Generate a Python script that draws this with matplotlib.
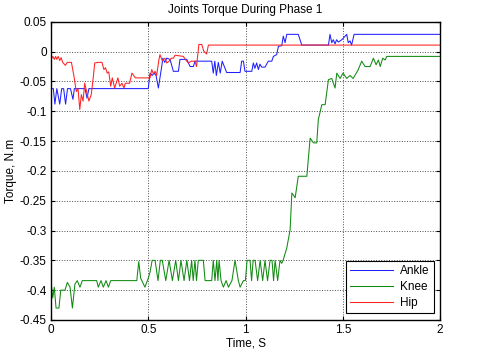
import matplotlib
matplotlib.use('Agg')
import matplotlib.pyplot as plt
from matplotlib.ticker import FuncFormatter

plt.rcParams['font.family'] = ['Liberation Sans', 'DejaVu Sans']

# Ankle torque (time, value)
ankle_t = [0, 0.012, 0.02, 0.03, 0.045, 0.055, 0.065, 0.075, 0.085, 0.1, 0.113, 0.12,
           0.175, 0.185, 0.195, 0.5, 0.509, 0.52, 0.53, 0.54, 0.552, 0.569, 0.575,
           0.585, 0.595, 0.612, 0.629, 0.655, 0.663, 0.698, 0.715, 0.732, 0.74, 0.826,
           0.834, 0.842, 0.85, 0.86, 0.87, 0.88, 0.903, 0.972, 0.98, 0.989, 0.997,
           1.032, 1.04, 1.048, 1.057, 1.066, 1.074, 1.083, 1.1, 1.117, 1.135, 1.143,
           1.16, 1.169, 1.186, 1.194, 1.203, 1.212, 1.271, 1.289, 1.426, 1.434, 1.443,
           1.451, 1.46, 1.468, 1.477, 1.495, 1.52, 1.528, 1.537, 1.545, 1.558, 2.0]
ankle_v = [-0.062, -0.062, -0.088, -0.062, -0.088, -0.062, -0.062, -0.088, -0.062, -0.062,
           -0.08, -0.062, -0.062, -0.078, -0.062, -0.062, -0.036, -0.04, -0.036, -0.04,
           -0.061, -0.025, -0.011, -0.018, -0.011, -0.013, -0.033, -0.033, -0.013, -0.013,
           -0.025, -0.025, -0.016, -0.016, -0.036, -0.016, -0.04, -0.018, -0.036, -0.016,
           -0.035, -0.035, -0.016, -0.016, -0.033, -0.033, -0.019, -0.028, -0.019, -0.03,
           -0.021, -0.026, -0.026, -0.016, -0.016, -0.008, -0.005, 0.009, 0.01, 0.026,
           0.015, 0.029, 0.029, 0.011, 0.011, 0.029, 0.015, 0.02, 0.013, 0.02, 0.016,
           0.02, 0.029, 0.015, 0.018, 0.011, 0.029, 0.029]

# Knee torque
knee_t = [0, 0.009, 0.017, 0.026, 0.041, 0.05, 0.072, 0.084, 0.098, 0.11, 0.123, 0.135,
          0.149, 0.161, 0.235, 0.243, 0.257, 0.269, 0.283, 0.295, 0.307, 0.441, 0.451,
          0.461, 0.483, 0.5, 0.509, 0.52, 0.535, 0.55, 0.562, 0.572, 0.59, 0.607, 0.624,
          0.641, 0.655, 0.668, 0.684, 0.698, 0.712, 0.723, 0.731, 0.74, 0.748, 0.757,
          0.783, 0.792, 0.826, 0.834, 0.843, 0.852, 0.858, 0.864, 0.874, 0.886, 0.9,
          0.912, 0.93, 0.946, 0.963, 0.972, 0.989, 0.999, 1.008, 1.023, 1.031, 1.039,
          1.049, 1.062, 1.075, 1.088, 1.1, 1.113, 1.126, 1.136, 1.144, 1.152, 1.165,
          1.177, 1.186, 1.194, 1.212, 1.229, 1.238, 1.255, 1.271, 1.315, 1.332, 1.349,
          1.366, 1.374, 1.392, 1.409, 1.426, 1.443, 1.46, 1.469, 1.486, 1.501, 1.52,
          1.537, 1.553, 1.578, 1.597, 1.614, 1.64, 1.657, 1.671, 1.683, 1.692, 1.705,
          1.717, 1.726, 2.0]
knee_v = [-0.385, -0.413, -0.395, -0.43, -0.43, -0.4, -0.4, -0.387, -0.395, -0.43, -0.39,
          -0.384, -0.395, -0.384, -0.384, -0.395, -0.384, -0.395, -0.384, -0.395, -0.384,
          -0.384, -0.352, -0.38, -0.395, -0.38, -0.37, -0.35, -0.35, -0.384, -0.35, -0.35,
          -0.384, -0.35, -0.384, -0.35, -0.384, -0.35, -0.384, -0.35, -0.384, -0.35,
          -0.384, -0.35, -0.384, -0.35, -0.35, -0.384, -0.384, -0.35, -0.384, -0.35,
          -0.384, -0.35, -0.384, -0.395, -0.384, -0.395, -0.384, -0.35, -0.384, -0.395,
          -0.384, -0.384, -0.35, -0.35, -0.384, -0.35, -0.35, -0.384, -0.35, -0.384,
          -0.35, -0.384, -0.35, -0.35, -0.384, -0.35, -0.384, -0.35, -0.355, -0.349,
          -0.329, -0.299, -0.237, -0.245, -0.209, -0.209, -0.145, -0.153, -0.153, -0.114,
          -0.089, -0.089, -0.047, -0.045, -0.061, -0.036, -0.045, -0.036, -0.045, -0.04,
          -0.045, -0.031, -0.016, -0.025, -0.025, -0.011, -0.022, -0.014, -0.025, -0.011,
          -0.014, -0.008, -0.008]

# Hip torque
hip_t = [0, 0.01, 0.017, 0.024, 0.03, 0.037, 0.045, 0.052, 0.06, 0.074, 0.084, 0.105,
         0.118, 0.13, 0.139, 0.148, 0.156, 0.165, 0.173, 0.187, 0.195, 0.207, 0.216,
         0.225, 0.242, 0.262, 0.272, 0.28, 0.289, 0.297, 0.307, 0.315, 0.327, 0.335,
         0.344, 0.353, 0.365, 0.375, 0.382, 0.404, 0.416, 0.434, 0.5, 0.509, 0.518,
         0.526, 0.535, 0.543, 0.555, 0.56, 0.572, 0.586, 0.595, 0.607, 0.618, 0.629,
         0.638, 0.68, 0.698, 0.706, 0.72, 0.74, 0.748, 0.76, 0.775, 0.785, 0.8, 0.809, 2.0]
hip_v = [-0.013, -0.008, -0.013, -0.008, -0.013, -0.008, -0.015, -0.01, -0.018, -0.023,
         -0.018, -0.018, -0.041, -0.067, -0.062, -0.097, -0.072, -0.083, -0.053, -0.072,
         -0.083, -0.072, -0.047, -0.019, -0.018, -0.018, -0.03, -0.027, -0.036, -0.034,
         -0.058, -0.044, -0.061, -0.053, -0.044, -0.058, -0.053, -0.061, -0.053, -0.053,
         -0.036, -0.044, -0.044, -0.044, -0.03, -0.037, -0.033, -0.04, -0.013, -0.005,
         -0.015, -0.011, -0.019, -0.016, -0.011, -0.011, -0.006, -0.008, -0.016, -0.019,
         -0.016, -0.016, -0.025, 0.012, 0.012, 0.001, -0.004, 0.011, 0.011]

fig = plt.figure(figsize=(4.81, 3.52), dpi=100)
ax = fig.add_axes([0.106, 0.091, 0.809, 0.847])

ax.plot(ankle_t, ankle_v, color='#2020ff', linewidth=0.75, label='Ankle')
ax.plot(knee_t, knee_v, color='#108a10', linewidth=0.75, label='Knee')
ax.plot(hip_t, hip_v, color='#ff2020', linewidth=0.75, label='Hip')

ax.set_xlim(0, 2)
ax.set_ylim(-0.45, 0.05)
ax.set_xticks([0, 0.5, 1, 1.5, 2])
ax.set_yticks([0.05, 0, -0.05, -0.1, -0.15, -0.2, -0.25, -0.3, -0.35, -0.4, -0.45])
fmt = FuncFormatter(lambda v, p: ('%g' % round(v, 2)))
ax.xaxis.set_major_formatter(fmt)
ax.yaxis.set_major_formatter(fmt)

ax.grid(True, color='0.3', linestyle=':', linewidth=0.7)
ax.tick_params(direction='in', top=True, right=True, length=3, labelsize=8.5, pad=3)
for s in ax.spines.values():
    s.set_linewidth(1.0)

ax.set_title('Joints Torque During Phase 1', fontsize=8.5, pad=6)
ax.set_xlabel('Time, S', fontsize=8.5, labelpad=1)
ax.set_ylabel('Torque, N.m', fontsize=8.5, labelpad=2)

leg = ax.legend(loc='lower right', fontsize=8.5, fancybox=False, framealpha=1,
                edgecolor='black', handlelength=3.6, borderpad=0.35, labelspacing=0.35,
                borderaxespad=0.55, handletextpad=0.6)
leg.get_frame().set_linewidth(0.8)

fig.savefig('out.png', dpi=100)
